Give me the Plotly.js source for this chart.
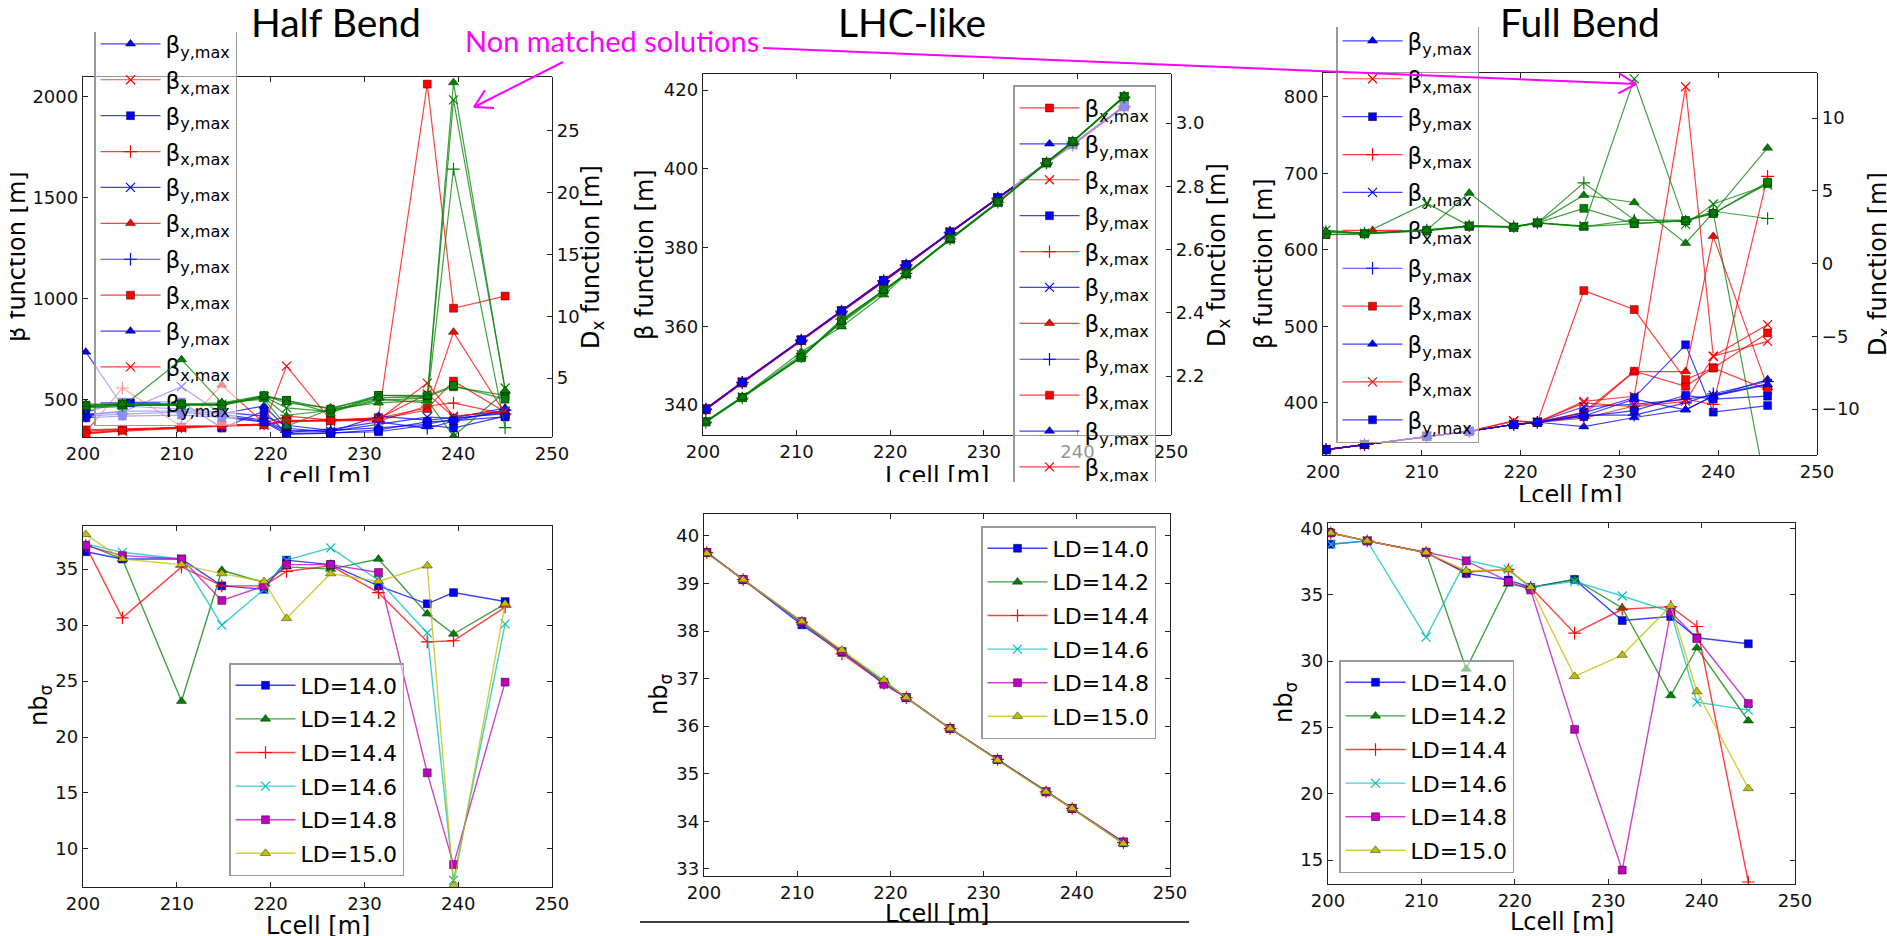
<!DOCTYPE html>
<html>
<head>
<meta charset="utf-8">
<script src="https://cdn.plot.ly/plotly-3.0.1.min.js"></script>
<style>
  html, body { margin: 0; padding: 0; background: #fff; width: 1887px; height: 936px; overflow: hidden; position: relative; }
  .clip { position: absolute; overflow: hidden; }
  .plot { position: absolute; }
</style>
</head>
<body>
<script>
// ---------------- data ----------------
const lcell = [200.3, 204.2, 210.5, 214.8, 219.3, 221.7, 226.4, 231.5, 236.7, 239.5, 245.0];
const ldLabels = ['LD=14.0', 'LD=14.2', 'LD=14.4', 'LD=14.6', 'LD=14.8', 'LD=15.0'];
const xTicks = [200, 210, 220, 230, 240, 250];

// Half Bend: beta maxima [m] and dispersion [m], one row per LD
const halfBetaX = [
  [352, 356, 365, 375, 380, 395, 400, 411, 460, 593, 440],
  [336, 345, 362, 370, 376, 400, 395, 402, 583, 420, 442],
  [341, 559, 368, 372, 381, 393, 404, 395, 470, 485, 430],
  [346, 355, 360, 574, 385, 420, 402, 405, 450, 835, 432],
  [331, 350, 366, 375, 378, 392, 398, 412, 2060, 953, 1013],
  [338, 352, 364, 376, 379, 667, 402, 408, 530, 418, 446]
];
const halfBetaY = [
  [737, 470, 455, 440, 420, 375, 350, 362, 380, 405, 440],
  [440, 490, 490, 361, 445, 335, 337, 343, 376, 361, 420],
  [430, 440, 565, 430, 400, 350, 345, 380, 415, 410, 432],
  [420, 430, 440, 420, 395, 340, 355, 392, 360, 396, 450],
  [425, 445, 445, 432, 470, 360, 342, 420, 400, 412, 460],
  [412, 420, 425, 415, 391, 330, 336, 352, 392, 398, 416]
];
const halfDx = [
  [2.8, 2.9, 2.9, 2.8, 3.5, 3.2, 2.2, 3.6, 3.5, 4.3, 3.6],
  [2.6, 2.7, 6.5, 3.0, 3.3, 1.1, 2.5, 3.0, 3.2, 0.3, 3.9],
  [2.7, 2.8, 2.8, 2.9, 3.4, 2.0, 2.4, 3.3, 3.0, 21.9, 1.0],
  [2.7, 2.8, 2.8, 2.9, 3.5, 2.6, 2.3, 3.2, 3.4, 27.5, 4.2],
  [2.8, 2.9, 2.9, 2.8, 3.6, 3.2, 2.5, 3.6, 3.6, 4.4, 3.3],
  [2.9, 2.9, 2.9, 3.0, 3.6, 3.0, 2.6, 3.4, 3.5, 28.9, 4.0]
];
const halfNb = [
  [36.55, 35.9, 35.9, 33.5, 33.2, 35.8, 35.4, 33.5, 31.9, 32.9, 32.1],
  [37.2, 35.9, 23.2, 34.9, 33.8, 35.2, 35.0, 35.9, 31.0, 29.2, 31.9],
  [37.1, 30.65, 35.2, 33.5, 33.5, 34.8, 35.3, 32.9, 28.5, 28.6, 31.6],
  [37.25, 36.5, 35.9, 30.0, 33.2, 35.8, 36.9, 34.0, 29.3, 7.2, 30.1],
  [37.1, 36.2, 35.9, 32.2, 33.5, 35.4, 35.4, 34.7, 16.8, 8.6, 24.9],
  [38.1, 35.9, 35.4, 34.6, 33.9, 30.6, 34.6, 33.9, 35.3, 6.7, 31.9]
];

// LHC-like
const lhcBetaX = [
  [338.8, 345.6, 356.4, 363.8, 371.4, 375.5, 383.8, 392.5, 401.4, 406.1, 415.7],
  [339.0, 345.8, 356.5, 363.9, 371.6, 375.6, 383.9, 392.6, 401.5, 406.2, 415.9],
  [338.9, 345.7, 356.3, 363.7, 371.5, 375.4, 383.8, 392.4, 401.4, 406.0, 415.8],
  [339.1, 345.9, 356.6, 364.0, 371.7, 375.7, 384.0, 392.7, 401.6, 406.3, 416.0],
  [338.9, 345.7, 356.5, 363.9, 371.6, 375.6, 383.9, 392.6, 401.5, 406.2, 415.9],
  [339.0, 345.8, 356.4, 363.8, 371.5, 375.5, 383.9, 392.5, 401.5, 406.1, 415.8]
];
const lhcBetaY = [
  [339.0, 345.8, 356.5, 363.9, 371.6, 375.6, 383.9, 392.6, 401.5, 406.2, 415.9],
  [339.1, 345.9, 356.6, 364.0, 371.7, 375.7, 384.0, 392.7, 401.6, 406.3, 416.0],
  [338.9, 345.7, 356.4, 363.8, 371.5, 375.5, 383.8, 392.5, 401.4, 406.1, 415.8],
  [339.0, 345.8, 356.5, 363.9, 371.6, 375.6, 383.9, 392.6, 401.5, 406.2, 415.9],
  [339.1, 345.8, 356.6, 363.9, 371.7, 375.6, 384.0, 392.6, 401.5, 406.2, 416.0],
  [339.0, 345.8, 356.5, 363.9, 371.6, 375.6, 383.9, 392.6, 401.5, 406.2, 415.9]
];
const lhcDx = [
  [2.056, 2.133, 2.260, 2.374, 2.472, 2.523, 2.633, 2.749, 2.875, 2.941, 3.083],
  [2.058, 2.135, 2.277, 2.356, 2.457, 2.521, 2.631, 2.747, 2.876, 2.942, 3.085],
  [2.054, 2.131, 2.262, 2.380, 2.470, 2.525, 2.634, 2.750, 2.874, 2.940, 3.082],
  [2.057, 2.134, 2.268, 2.368, 2.466, 2.522, 2.632, 2.748, 2.875, 2.941, 3.084],
  [2.055, 2.132, 2.258, 2.376, 2.474, 2.524, 2.635, 2.751, 2.876, 2.942, 3.083],
  [2.056, 2.133, 2.262, 2.372, 2.470, 2.523, 2.633, 2.749, 2.875, 2.941, 3.086]
];
const lhcNb = [
  [39.65, 39.08, 38.13, 37.55, 36.92, 36.60, 35.95, 35.30, 34.62, 34.27, 33.55],
  [39.65, 39.08, 38.18, 37.57, 36.95, 36.60, 35.95, 35.30, 34.62, 34.27, 33.53],
  [39.65, 39.08, 38.18, 37.52, 36.90, 36.60, 35.95, 35.30, 34.62, 34.27, 33.55],
  [39.65, 39.08, 38.18, 37.55, 36.92, 36.60, 35.95, 35.30, 34.62, 34.27, 33.55],
  [39.65, 39.08, 38.20, 37.57, 36.88, 36.60, 35.95, 35.30, 34.62, 34.27, 33.57],
  [39.63, 39.08, 38.20, 37.60, 36.97, 36.60, 35.95, 35.28, 34.62, 34.27, 33.53]
];

// Full Bend
const fullBetaX = [
  [339.0, 345.7, 356.5, 363.0, 371.8, 374.8, 388.0, 441.4, 421.8, 445.8, 491.5],
  [339.0, 345.7, 356.5, 363.0, 377.0, 374.8, 402.0, 408.7, 813.0, 461.0, 502.4],
  [339.0, 345.7, 356.5, 363.0, 371.8, 374.8, 380.0, 396.0, 405.0, 398.0, 696.0],
  [339.0, 345.7, 356.5, 363.0, 371.8, 374.8, 385.0, 441.0, 441.0, 617.6, 420.0],
  [339.0, 345.7, 356.5, 363.0, 371.8, 374.8, 546.7, 522.0, 430.5, 445.8, 417.0],
  [339.0, 345.7, 356.5, 363.0, 376.0, 374.8, 400.0, 395.0, 402.0, 461.0, 480.5]
];
const fullBetaY = [
  [339.0, 345.7, 356.5, 363.0, 371.8, 374.8, 369.0, 381.0, 391.0, 409.0, 430.5],
  [339.0, 345.7, 356.5, 363.0, 371.8, 374.8, 387.0, 407.0, 476.0, 388.0, 396.6],
  [339.0, 345.7, 356.5, 363.0, 371.8, 374.8, 395.0, 398.0, 405.0, 410.0, 425.0],
  [339.0, 345.7, 356.5, 363.0, 371.8, 374.8, 384.0, 384.0, 400.0, 412.0, 428.0],
  [339.0, 345.7, 356.5, 363.0, 371.8, 374.8, 383.0, 405.0, 391.0, 409.0, 424.0],
  [339.0, 345.7, 356.5, 363.0, 371.8, 374.8, 382.0, 390.0, 410.0, 405.0, 408.8]
];
const fullDx = [
  [2.0, 2.05, 2.25, 2.55, 2.5, 2.8, 3.8, 2.75, 2.95, 3.45, 5.5],
  [2.2, 2.1, 2.3, 4.85, 2.55, 2.8, 4.7, 4.2, 1.4, 3.5, 7.95],
  [2.2, 2.1, 2.3, 2.6, 2.55, 2.8, 5.55, 3.0, 2.9, 3.6, 3.1],
  [2.3, 2.1, 4.15, 2.6, 2.5, 2.8, 2.6, 12.7, 2.7, 4.1, 5.4],
  [2.0, 2.05, 2.3, 2.6, 2.5, 2.8, 2.55, 2.75, 2.95, 3.45, 5.6],
  [2.2, 2.1, 2.3, 2.6, 2.55, 2.8, 2.55, 3.0, 3.0, 3.5, -16.0]
];
const fullNb = [
  [38.8, 39.05, 38.17, 36.6, 36.1, 35.55, 36.15, 33.05, 33.35, 31.75, 31.3],
  [39.65, 39.05, 38.17, 29.4, 35.8, 35.55, 36.15, 34.0, 27.4, 31.0, 25.5],
  [39.65, 39.05, 38.17, 36.7, 36.9, 35.55, 32.1, 33.9, 34.1, 32.6, 13.35],
  [38.8, 39.05, 31.8, 37.6, 36.9, 35.55, 36.0, 34.9, 33.7, 26.9, 26.3],
  [39.65, 39.05, 38.2, 37.55, 36.0, 35.35, 24.85, 14.25, 33.7, 31.7, 26.8],
  [39.65, 39.05, 38.17, 36.8, 36.9, 35.55, 28.85, 30.45, 34.15, 27.7, 20.4]
];

// tick values
const halfBetaTicks = [500, 1000, 1500, 2000];
const halfDxTicks = [5, 10, 15, 20, 25];
const lhcBetaTicks = [340, 360, 380, 400, 420];
const lhcDxTicks = [2.2, 2.4, 2.6, 2.8, 3.0];
const fullBetaTicks = [400, 500, 600, 700, 800];
const fullDxTicks = [-10, -5, 0, 5, 10];
const halfNbTicks = [10, 15, 20, 25, 30, 35];
const lhcNbTicks = [33, 34, 35, 36, 37, 38, 39, 40];
const fullNbTicks = [15, 20, 25, 30, 35, 40];

// marker / colour cycles
const betaXSymbols = ['square', 'x-thin', 'cross-thin', 'triangle-up', 'square', 'x-thin'];
const betaYSymbols = ['triangle-up', 'square', 'x-thin', 'cross-thin', 'triangle-up', 'square'];
const dxSymbols = ['square', 'triangle-up', 'cross-thin', 'x-thin', 'square', 'triangle-up'];
const nbSymbols = ['square', 'triangle-up', 'cross-thin', 'x-thin', 'square', 'triangle-up'];
const nbColors = ['#0000ff', '#008000', '#ff0000', '#00bfbf', '#bf00bf', '#bfbf00'];
const RED = '#ff0000', BLUE = '#0000ff', GREEN = '#008000';

// ---------------- helpers ----------------
const FONT = 'DejaVu Sans, sans-serif';
const TITLE_FONT = 'Lato, sans-serif';
const PAGE_W = 1887, PAGE_H = 936;

function rgba(hex, a) {
  const n = parseInt(hex.slice(1), 16);
  return 'rgba(' + ((n >> 16) & 255) + ',' + ((n >> 8) & 255) + ',' + (n & 255) + ',' + a + ')';
}
function marker(sym, color) {
  if (sym.endsWith('-thin')) return { symbol: sym, size: 9, color: color, line: { color: color, width: 1.2 } };
  return { symbol: sym, size: sym === 'square' ? 8 : 9, color: color, line: { color: 'rgba(0,0,0,0.5)', width: 0.8 } };
}
function series(y, name, color, sym, group, showlegend, width) {
  return {
    type: 'scatter', mode: 'lines+markers', x: lcell, y: y, name: name,
    legendgroup: group, showlegend: showlegend,
    line: { color: rgba(color, 0.75), width: width || 1.2 },
    marker: marker(sym, color), hoverinfo: 'skip'
  };
}
function margins(g) {
  return { l: g.x0 - g.left, r: g.left + g.width - g.x1, t: g.y0 - g.top, b: g.top + g.height - g.y1, pad: 0 };
}
function px2paper(g, ax, ay) {
  return { x: (ax - g.x0) / (g.x1 - g.x0), y: (g.y1 - ay) / (g.y1 - g.y0) };
}
const tickFont = { family: FONT, size: 18, color: '#111' };
function xAxis() {
  return {
    range: [200, 250], tickmode: 'array', tickvals: xTicks, ticks: 'inside', ticklen: 5, tickwidth: 1,
    tickcolor: '#222', showline: true, linecolor: '#222', linewidth: 1.2, mirror: 'ticks',
    showgrid: false, zeroline: false, tickfont: tickFont, fixedrange: true
  };
}
function yAxis(range, vals, mirror, side, fmt) {
  return {
    range: range, tickmode: 'array', tickvals: vals, ticks: 'inside', ticklen: 5, tickwidth: 1,
    tickcolor: '#222', showline: true, linecolor: '#222', linewidth: 1.2, mirror: mirror,
    side: side || 'left', showgrid: false, zeroline: false, tickfont: tickFont, tickformat: fmt || '',
    fixedrange: true
  };
}
function axisTitle(g, text, ax, ay, angle) {
  const p = px2paper(g, ax, ay);
  return {
    xref: 'paper', yref: 'paper', x: p.x, y: p.y, text: text, showarrow: false, textangle: angle || 0,
    xanchor: 'center', yanchor: 'middle', font: { family: FONT, size: 24, color: '#000' }
  };
}
function legendCfg(g, ax, ay, yanchor, gap, size) {
  const p = px2paper(g, ax, ay);
  return {
    x: p.x, y: p.y, xanchor: 'left', yanchor: yanchor, xref: 'paper', yref: 'paper',
    bgcolor: 'rgba(255,255,255,0.55)', bordercolor: '#9a9a9a', borderwidth: 1.5,
    font: { family: FONT, size: size, color: '#000' }, traceorder: 'grouped', tracegroupgap: gap,
    itemwidth: 60, maxheight: 2000
  };
}
function addClip(clip) {
  const c = document.createElement('div');
  c.className = 'clip';
  Object.assign(c.style, { left: clip.left + 'px', top: clip.top + 'px', width: clip.width + 'px', height: clip.height + 'px' });
  document.body.appendChild(c);
  return c;
}
function addLayer(container, clip, g) {
  const d = document.createElement('div');
  d.className = 'plot';
  Object.assign(d.style, { left: (g.left - clip.left) + 'px', top: (g.top - clip.top) + 'px', width: g.width + 'px', height: g.height + 'px' });
  container.appendChild(d);
  return d;
}
const plotConfig = { staticPlot: true, displayModeBar: false };

function baseLayout(g, yax, legend, notes) {
  return {
    width: g.width, height: g.height, margin: margins(g),
    paper_bgcolor: 'rgba(0,0,0,0)', plot_bgcolor: 'rgba(0,0,0,0)',
    font: { family: FONT, color: '#000' }, showlegend: true, legend: legend,
    xaxis: xAxis(), yaxis: yax, annotations: notes
  };
}

// beta panel (primary axis) + dispersion panel (twin axis drawn above the legend)
function betaPanel(p) {
  const c = addClip(p.clip);
  const traces = [];
  for (let i = 0; i < 6; i++) {
    traces.push(series(p.betaX[i], '\u03b2<sub>x,max</sub>', RED, betaXSymbols[i], 'bx' + i, true));
    traces.push(series(p.betaY[i], '\u03b2<sub>y,max</sub>', BLUE, betaYSymbols[i], 'by' + i, true));
  }
  const notes = [
    axisTitle(p.g, '\u03b2 function [m]', p.yTitle[0], p.yTitle[1], -90),
    axisTitle(p.g, 'D<sub>x</sub> function [m]', p.dxTitle[0], p.dxTitle[1], -90),
    axisTitle(p.g, 'Lcell [m]', p.xTitle[0], p.xTitle[1], 0)
  ];
  const yax = yAxis(p.betaRange, p.betaTicks, false, 'left');
  Plotly.newPlot(addLayer(c, p.clip, p.g), traces,
    baseLayout(p.g, yax, legendCfg(p.g, p.legend[0], p.legend[1], p.legend[2], p.legendGap, 23), notes), plotConfig);

  const dxTraces = [];
  for (let i = 0; i < 6; i++) dxTraces.push(series(p.dx[i], 'D<sub>x</sub>', GREEN, dxSymbols[i], 'dx' + i, false));
  const xo = xAxis(); xo.visible = false;
  Plotly.newPlot(addLayer(c, p.clip, p.g), dxTraces, {
    width: p.g.width, height: p.g.height, margin: margins(p.g),
    paper_bgcolor: 'rgba(0,0,0,0)', plot_bgcolor: 'rgba(0,0,0,0)', showlegend: false,
    xaxis: xo, yaxis: yAxis(p.dxRange, p.dxTicks, false, 'right', p.dxFormat)
  }, plotConfig);
}

function nbPanel(p) {
  const c = addClip(p.clip);
  const traces = [];
  for (let i = 0; i < 6; i++) traces.push(series(p.nb[i], ldLabels[i], nbColors[i], nbSymbols[i], 'ld' + i, true, 1.4));
  const notes = [
    axisTitle(p.g, 'nb<sub>\u03c3</sub>', p.yTitle[0], p.yTitle[1], -90),
    axisTitle(p.g, 'Lcell [m]', p.xTitle[0], p.xTitle[1], 0)
  ];
  Plotly.newPlot(addLayer(c, p.clip, p.g), traces,
    baseLayout(p.g, yAxis(p.range, p.ticks, 'ticks', 'left'),
      legendCfg(p.g, p.legend[0], p.legend[1], p.legend[2], p.legendGap, 22), notes), plotConfig);
}

// ---------------- panels ----------------
betaPanel({
  clip: { left: 10, top: 32, width: 610, height: 450 },
  g: { left: 0, top: -40, width: 620, height: 600, x0: 83, x1: 552, y0: 77, y1: 437 },
  betaX: halfBetaX, betaY: halfBetaY, dx: halfDx,
  betaRange: [317, 2095], betaTicks: halfBetaTicks,
  dxRange: [0.24, 29.35], dxTicks: halfDxTicks,
  yTitle: [17, 257], dxTitle: [592, 257], xTitle: [318, 477],
  legend: [94, 426, 'bottom'], legendGap: 3
});
betaPanel({
  clip: { left: 620, top: 32, width: 640, height: 450 },
  g: { left: 620, top: -40, width: 640, height: 600, x0: 703, x1: 1171, y0: 74, y1: 435 },
  betaX: lhcBetaX, betaY: lhcBetaY, dx: lhcDx,
  betaRange: [332.4, 424.1], betaTicks: lhcBetaTicks,
  dxRange: [2.014, 3.155], dxTicks: lhcDxTicks, dxFormat: '.1f',
  yTitle: [645, 255], dxTitle: [1218, 255], xTitle: [937, 476],
  legend: [1013, 85, 'top'], legendGap: 3
});
betaPanel({
  clip: { left: 1240, top: 27, width: 647, height: 475 },
  g: { left: 1240, top: -40, width: 647, height: 600, x0: 1323, x1: 1817, y0: 73, y1: 455 },
  betaX: fullBetaX, betaY: fullBetaY, dx: fullDx,
  betaRange: [332, 831], betaTicks: fullBetaTicks,
  dxRange: [-13.15, 13.1], dxTicks: fullDxTicks,
  yTitle: [1264, 264], dxTitle: [1879, 264], xTitle: [1570, 495],
  legend: [1336, 443, 'bottom'], legendGap: 5
});
nbPanel({
  clip: { left: 0, top: 482, width: 620, height: 454 },
  g: { left: 0, top: 482, width: 620, height: 454, x0: 83, x1: 552, y0: 526, y1: 887 },
  nb: halfNb, range: [6.6, 38.85], ticks: halfNbTicks,
  yTitle: [40, 706], xTitle: [318, 926], legend: [229, 876, 'bottom'], legendGap: 2
});
nbPanel({
  clip: { left: 620, top: 482, width: 640, height: 454 },
  g: { left: 620, top: 482, width: 640, height: 454, x0: 704, x1: 1170, y0: 514, y1: 876 },
  nb: lhcNb, range: [32.85, 40.46], ticks: lhcNbTicks,
  yTitle: [660, 695], xTitle: [937, 914], legend: [981, 526, 'top'], legendGap: 2
});
nbPanel({
  clip: { left: 1240, top: 502, width: 647, height: 434 },
  g: { left: 1240, top: 502, width: 647, height: 434, x0: 1328, x1: 1795, y0: 523, y1: 884 },
  nb: fullNb, range: [13.2, 40.4], ticks: fullNbTicks,
  yTitle: [1285, 703], xTitle: [1562, 922], legend: [1339, 873, 'bottom'], legendGap: 2
});

// ---------------- headings, callout arrows, rule ----------------
function fx(x) { return x / PAGE_W; }
function fy(y) { return 1 - y / PAGE_H; }
function seg(x0, y0, x1, y1, color, width) {
  return { type: 'line', xref: 'paper', yref: 'paper', x0: fx(x0), y0: fy(y0), x1: fx(x1), y1: fy(y1),
           line: { color: color, width: width } };
}
function arrow(tail, tip, color) {
  const dx = tail[0] - tip[0], dy = tail[1] - tip[1];
  const len = Math.hypot(dx, dy), ux = dx / len, uy = dy / len;
  const out = [seg(tail[0], tail[1], tip[0], tip[1], color, 2)];
  [Math.PI / 6, -Math.PI / 6].forEach(function (a) {
    const bx = ux * Math.cos(a) - uy * Math.sin(a), by = ux * Math.sin(a) + uy * Math.cos(a);
    out.push(seg(tip[0], tip[1], tip[0] + 20 * bx, tip[1] + 20 * by, color, 2));
  });
  return out;
}
const MAGENTA = '#ff00ff';
function heading(text, x, y) {
  return { xref: 'paper', yref: 'paper', x: fx(x), y: fy(y), text: text, showarrow: false,
           xanchor: 'center', yanchor: 'middle', font: { family: TITLE_FONT, size: 39, color: '#000' } };
}
const overlayDiv = document.createElement('div');
overlayDiv.className = 'plot';
Object.assign(overlayDiv.style, { left: '0px', top: '0px', width: PAGE_W + 'px', height: PAGE_H + 'px' });
document.body.appendChild(overlayDiv);
Plotly.newPlot(overlayDiv, [], {
  width: PAGE_W, height: PAGE_H, margin: { l: 0, r: 0, t: 0, b: 0, pad: 0 },
  paper_bgcolor: 'rgba(0,0,0,0)', plot_bgcolor: 'rgba(0,0,0,0)',
  xaxis: { visible: false, range: [0, 1] }, yaxis: { visible: false, range: [0, 1] },
  annotations: [
    heading('Half Bend', 336, 22),
    heading('LHC-like', 912, 22),
    heading('Full Bend', 1580, 22),
    { xref: 'paper', yref: 'paper', x: fx(463), y: fy(41), text: 'Non matched solutions', showarrow: false,
      xanchor: 'left', yanchor: 'middle', font: { family: TITLE_FONT, size: 29, color: MAGENTA } }
  ],
  shapes: [].concat(
    arrow([563, 62], [474, 107], MAGENTA),
    arrow([763, 48], [1636, 84], MAGENTA),
    [seg(640, 922, 1189, 922, '#000', 1.5)]
  )
}, plotConfig);
</script>
</body>
</html>
